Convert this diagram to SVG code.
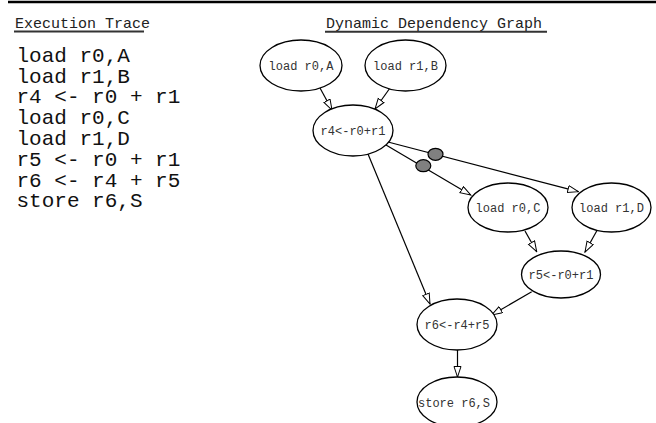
<svg xmlns="http://www.w3.org/2000/svg" width="656" height="423" viewBox="0 0 656 423">
<style>
  .title { font-family: "Liberation Mono", "Courier New", monospace; font-size: 15px; fill: #222; }
  .code { font-family: "Liberation Mono", "Courier New", monospace; font-size: 21px; fill: #111; }
  .node ellipse { fill: #fff; stroke: #000; stroke-width: 1.3; }
  .node text { font-family: "Liberation Mono", "Courier New", monospace; font-size: 12px; fill: #333; text-anchor: middle; }
  .edge { stroke: #000; stroke-width: 1.2; fill: none; marker-end: url(#arrow); }
  .dot { fill: #808080; stroke: #000; stroke-width: 1.2; }
</style>
<defs>
  <marker id="arrow" markerUnits="userSpaceOnUse" markerWidth="12" markerHeight="9" refX="11" refY="4" orient="auto">
    <path d="M0.5,0.5 L11,4 L0.5,7.5 z" fill="#fff" stroke="#000" stroke-width="1"/>
  </marker>
</defs>
<rect width="656" height="423" fill="#fff"/>
<line x1="8" y1="2" x2="656" y2="2" stroke="#000" stroke-width="2.5"/>

<g id="trace">
  <text class="title" x="15" y="27.5">Execution Trace</text>
  <line x1="14" y1="31.5" x2="144" y2="31.5" stroke="#333" stroke-width="2"/>
  <text class="code" x="16.5" y="61.7">load r0,A</text>
  <text class="code" x="16.5" y="82.5">load r1,B</text>
  <text class="code" x="16.5" y="103.3">r4 &lt;- r0 + r1</text>
  <text class="code" x="16.5" y="124.1">load r0,C</text>
  <text class="code" x="16.5" y="144.9">load r1,D</text>
  <text class="code" x="16.5" y="165.7">r5 &lt;- r0 + r1</text>
  <text class="code" x="16.5" y="186.5">r6 &lt;- r4 + r5</text>
  <text class="code" x="16.5" y="207.3">store r6,S</text>
</g>

<g id="graph-title">
  <text class="title" x="326" y="27.5">Dynamic Dependency Graph</text>
  <line x1="325" y1="31.7" x2="547" y2="31.7" stroke="#333" stroke-width="2"/>
</g>

<g id="connectors">
  <line class="edge" x1="320" y1="88" x2="332" y2="110"/>
  <line class="edge" x1="390" y1="88" x2="375" y2="109"/>
  <line class="edge" x1="386" y1="145" x2="470.7" y2="195"/>
  <line class="edge" x1="388" y1="142" x2="578.3" y2="191.7"/>
  <line class="edge" x1="368" y1="154" x2="430" y2="304"/>
  <line class="edge" x1="525" y1="231" x2="536.7" y2="251.7"/>
  <line class="edge" x1="596.7" y1="231" x2="585" y2="252"/>
  <line class="edge" x1="531.7" y1="291.7" x2="491.7" y2="315"/>
  <line class="edge" x1="457.5" y1="350" x2="457.5" y2="377"/>
  <ellipse class="dot" cx="435.5" cy="154.3" rx="7.5" ry="6"/>
  <ellipse class="dot" cx="423.3" cy="165.7" rx="7.5" ry="6"/>
</g>

<g id="n-loadA" class="node"><ellipse cx="301" cy="65.5" rx="41" ry="25.5"/><text x="301" y="70">load r0,A</text></g>
<g id="n-loadB" class="node"><ellipse cx="405.5" cy="65.5" rx="40.5" ry="25.5"/><text x="405.5" y="70">load r1,B</text></g>
<g id="n-r4" class="node"><ellipse cx="353" cy="130.5" rx="40" ry="25.5"/><text x="353" y="135">r4&lt;-r0+r1</text></g>
<g id="n-loadC" class="node"><ellipse cx="508" cy="207.5" rx="40" ry="24.5"/><text x="508" y="212">load r0,C</text></g>
<g id="n-loadD" class="node"><ellipse cx="611.5" cy="207.5" rx="39.5" ry="24.5"/><text x="611.5" y="212">load r1,D</text></g>
<g id="n-r5" class="node"><ellipse cx="561" cy="274.5" rx="39.5" ry="23.5"/><text x="561" y="279">r5&lt;-r0+r1</text></g>
<g id="n-r6" class="node"><ellipse cx="457" cy="324.5" rx="40" ry="25.5"/><text x="457" y="329">r6&lt;-r4+r5</text></g>
<g id="n-store" class="node"><ellipse cx="457" cy="402" rx="40" ry="25"/><text x="454" y="406.5">store r6,S</text></g>
</svg>
